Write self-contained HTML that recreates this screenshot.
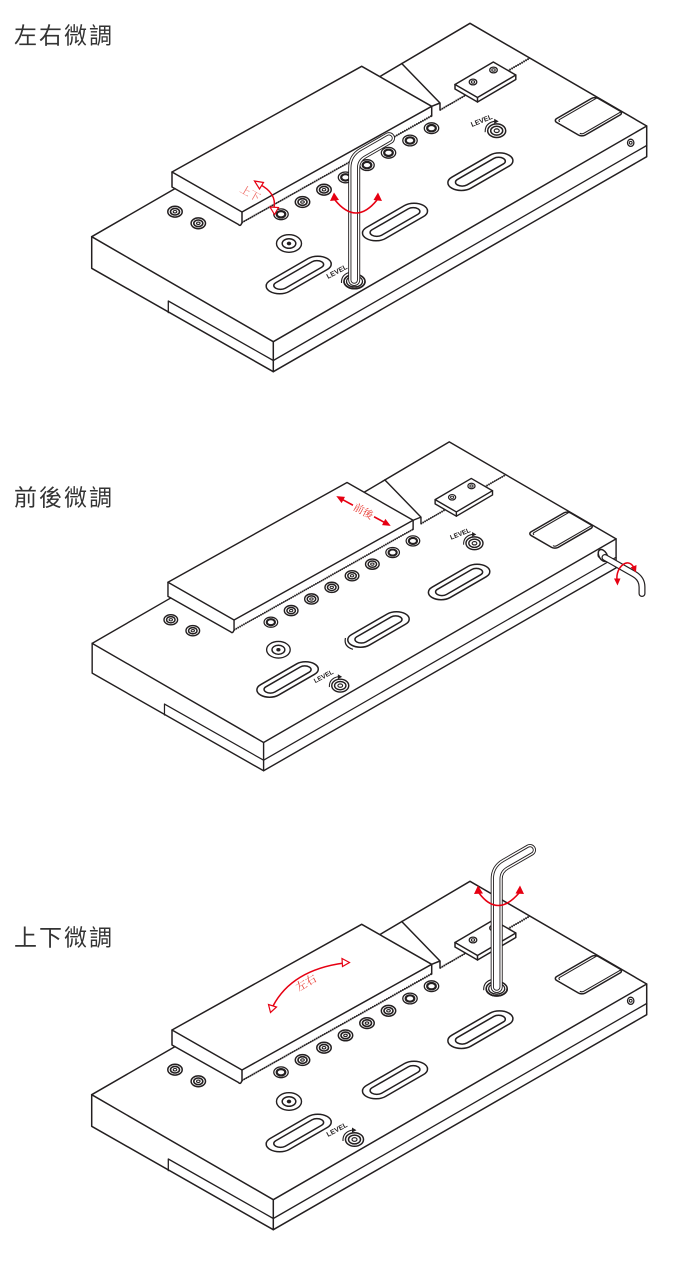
<!DOCTYPE html>
<html>
<head>
<meta charset="utf-8">
<style>
html,body{margin:0;padding:0;background:#fff;}
svg{display:block;}
.ttl{font-family:"Liberation Sans","Noto Sans CJK TC",sans-serif;font-size:23px;letter-spacing:2px;fill:#333;font-weight:400;}
.lv{font-family:"Liberation Sans",sans-serif;font-weight:bold;font-size:7px;fill:#231f20;}
.rt{font-family:"Liberation Serif","Noto Serif CJK SC","Noto Sans CJK TC",serif;fill:#e83a32;}
</style>
</head>
<body>
<svg width="700" height="1261" viewBox="0 0 700 1261" xmlns="http://www.w3.org/2000/svg">
<rect width="700" height="1261" fill="#fff"/>
<defs>
  <g id="sd" fill="none" stroke="#231f20">
    <ellipse rx="7.2" ry="5.4" fill="#fff" stroke-width="1.5"/>
    <ellipse rx="4.5" ry="3.3" stroke-width="1.6"/>
    <ellipse rx="1.8" ry="1.2" stroke-width="1.1"/>
  </g>
  <g id="so" fill="none" stroke="#231f20">
    <ellipse rx="7.2" ry="5.4" fill="#fff" stroke-width="1.3"/>
    <ellipse rx="4.3" ry="3.2" stroke-width="2.2"/>
  </g>
  <g id="ka" fill="none" stroke="#231f20">
    <path d="M-11.5,1.5 Q-12,-7.5 -2,-9.5" stroke-width="1.1"/>
    <path d="M-2.5,-12 L2,-9.3 L-2.5,-7 Z" fill="#231f20" stroke="none"/>
  </g>
  <g id="knob" fill="none" stroke="#231f20">
    <ellipse rx="9" ry="6.8" fill="#fff" stroke-width="1.5"/>
    <ellipse rx="6" ry="4.4" stroke-width="1.5"/>
    <ellipse rx="2.5" ry="1.8" stroke-width="1.2"/>
    <use href="#ka"/>
  </g>
  <g id="sock" fill="none" stroke="#231f20">
    <ellipse rx="10.5" ry="7.2" fill="#fff" stroke-width="1.6"/>
    <ellipse rx="8" ry="5.4" fill="#fff" stroke-width="1.2"/>
    <use href="#ka" x="-1.5"/>
  </g>

  <g id="base" fill="none" stroke="#231f20" stroke-width="1.5" stroke-linejoin="round" stroke-linecap="round">
    <!-- base plate -->
    <path d="M91.7,236.7 L273.3,341.7 L646.7,126 L470,23.3 L380,76.5"/>
    <path d="M91.7,236.7 L175,188.6"/>
    <path d="M91.7,236.7 V268.3 L273.3,371.7 L646.7,156.7 V126"/>
    <path d="M273.3,341.7 V371.7"/>
    <path d="M168.3,312.6 V301 L273.3,360.5 L646.7,145.5" stroke-width="1.3"/>
    <!-- top block -->
    <path fill="#fff" d="M172,172 L242,212 L431.7,106.3 L361.7,66.3 Z"/>
    <path d="M172,172 V187 L238.5,224.5 Q240.5,227 242,222.5 V212"/>
    <path d="M431.7,106.3 V116"/>
    <path d="M401.7,63.5 L440,103 V110 M431.7,106.3 L440,103"/>
    <!-- saw line -->
    <path d="M242,222.5 L431.7,115.8 M440,110 L530,58" stroke-width="0.9"/>
    <path d="M242,222.5 L431.7,115.8 M440,110 L530,58" stroke-width="2" stroke-dasharray="1 1.3" stroke-linecap="butt"/>
    <!-- clamp -->
    <path fill="#fff" d="M455,84.5 L493.3,62 L515.8,75 V79.5 L477.5,102 L455,89 Z"/>
    <path d="M455,84.5 L477.5,97.5 L515.8,75 M477.5,97.5 V102"/>
    <ellipse cx="473" cy="82" rx="3.8" ry="2.9" stroke-width="1.3"/>
    <ellipse cx="473" cy="82" rx="1.7" ry="1.2" stroke-width="1"/>
    <ellipse cx="493.5" cy="70" rx="3.8" ry="2.9" stroke-width="1.3"/>
    <ellipse cx="493.5" cy="70" rx="1.7" ry="1.2" stroke-width="1"/>
    <!-- pad -->
    <g transform="matrix(0.866,-0.5,0.866,0.5,553.3,120.5)">
      <rect width="48" height="33" rx="4" fill="#fff" vector-effect="non-scaling-stroke"/>
      <path d="M47,2.6 H5 Q3,2.6 2.6,4.5 M47,30.4 H5 Q3,30.4 2.6,28.5" vector-effect="non-scaling-stroke" stroke-width="1.1"/>
    </g>
    <!-- slots -->
    <g transform="matrix(0.866,-0.5,0.866,0.5,480.4,171.7)">
      <rect x="-33" y="-11" width="66" height="22" rx="11" vector-effect="non-scaling-stroke"/>
      <rect x="-26.5" y="-5.5" width="53" height="11" rx="5.5" vector-effect="non-scaling-stroke"/>
    </g>
    <g transform="matrix(0.866,-0.5,0.866,0.5,395,222)">
      <rect x="-33" y="-11" width="66" height="22" rx="11" vector-effect="non-scaling-stroke"/>
      <rect x="-26.5" y="-5.5" width="53" height="11" rx="5.5" vector-effect="non-scaling-stroke"/>
    </g>
    <g transform="matrix(0.866,-0.5,0.866,0.5,298.7,275)">
      <rect x="-33" y="-11" width="66" height="22" rx="11" vector-effect="non-scaling-stroke"/>
      <rect x="-26.5" y="-5.5" width="53" height="11" rx="5.5" vector-effect="non-scaling-stroke"/>
    </g>
    <!-- big screw -->
    <ellipse cx="289" cy="243.5" rx="12.5" ry="8.8" stroke-width="1.4"/>
    <ellipse cx="289" cy="243.5" rx="6.8" ry="4.8" stroke-width="1.5"/>
    <ellipse cx="289" cy="243.5" rx="1.5" ry="1.1" fill="#231f20"/>
    <!-- left screws -->
    <use href="#sd" x="175" y="211.7"/>
    <use href="#sd" x="198.3" y="223.3"/>
    <!-- side hole -->
    <ellipse cx="630.7" cy="142.8" rx="3.2" ry="3.6" stroke-width="1.3"/>
    <circle cx="630.7" cy="142.8" r="1.4" stroke-width="1"/>
  </g>
</defs>

<!-- Titles -->
<text class="ttl" x="14" y="43.5">左右微調</text>
<text class="ttl" x="14" y="505.5">前後微調</text>
<text class="ttl" x="14" y="945.5">上下微調</text>

<!-- ========== Drawing 1 ========== -->
<g>
  <use href="#base"/>
  <use href="#so" x="281" y="214.3"/>
  <use href="#sd" x="302.5" y="202"/>
  <use href="#sd" x="324" y="189.7"/>
  <use href="#so" x="345.5" y="177.4"/>
  <use href="#so" x="367" y="165.1"/>
  <use href="#so" x="388.5" y="152.8"/>
  <use href="#so" x="410" y="140.5"/>
  <use href="#so" x="431.5" y="128.2"/>
  <use href="#knob" x="496.7" y="130.7"/>
  <text class="lv" x="472" y="127" transform="rotate(-22 472 127)">LEVEL</text>
  <use href="#sock" x="354.5" y="281.5"/>
  <text class="lv" x="328" y="279" transform="rotate(-28 328 279)">LEVEL</text>

  <!-- 上下 arrow -->
  <path d="M259,184 Q277,193 274,208" stroke="#e60012" stroke-width="1.4" fill="none"/>
  <polygon points="254.5,181 263.5,182.5 259.5,189" fill="#fff" stroke="#e60012" stroke-width="1.2"/>
  <polygon points="274.5,214.5 270,207 278.5,207.5" fill="#fff" stroke="#e60012" stroke-width="1.2"/>
  <text class="rt" x="250" y="197" font-size="10.5" text-anchor="middle" opacity="0.8" transform="rotate(30 250 193.5)">上下</text>

  <!-- wrench -->
  <g fill="none" stroke-linecap="round" stroke-linejoin="round">
    <path d="M354.2,280 L354.2,168 Q354.2,158.2 362.9,153.2 L389,138.2" stroke="#231f20" stroke-width="12"/>
    <path d="M354.2,280 L354.2,168 Q354.2,158.2 362.9,153.2 L389,138.2" stroke="#fff" stroke-width="10.2"/>
    <path d="M354.2,280 L354.2,168 Q354.2,158.2 362.9,153.2 L389,138.2" stroke="#231f20" stroke-width="7.4"/>
    <path d="M354.2,280 L354.2,168 Q354.2,158.2 362.9,153.2 L389,138.2" stroke="#fff" stroke-width="5.6"/>
  </g>
  <path d="M344,281.5 A10.5,7.2 0 0,0 365,281.5" fill="none" stroke="#231f20" stroke-width="1.6"/>
  <path d="M346.5,281.5 A8,5.4 0 0,0 362.5,281.5" fill="none" stroke="#231f20" stroke-width="1.2"/>

  <!-- rotation arrow -->
  <path d="M335,200 Q356,226 377,200" fill="none" stroke="#e60012" stroke-width="1.6"/>
  <polygon points="334,192.5 330,201 339,200" fill="#e60012"/>
  <polygon points="378,192.5 373.5,200 382,201" fill="#e60012"/>
</g>

<!-- ========== Drawing 2 ========== -->
<g transform="translate(5.6,419.9) scale(0.944)">
  <use href="#base"/>
  <use href="#so" x="281" y="214.3"/>
  <use href="#sd" x="302.5" y="202"/>
  <use href="#sd" x="324" y="189.7"/>
  <use href="#sd" x="345.5" y="177.4"/>
  <use href="#sd" x="367" y="165.1"/>
  <use href="#sd" x="388.5" y="152.8"/>
  <use href="#so" x="410" y="140.5"/>
  <use href="#so" x="431.5" y="128.2"/>
  <use href="#knob" x="496.7" y="130.7"/>
  <text class="lv" x="472" y="127" transform="rotate(-22 472 127)">LEVEL</text>
  <use href="#knob" x="354.5" y="281.5"/>
  <text class="lv" x="328" y="279" transform="rotate(-28 328 279)">LEVEL</text>
  <path d="M360,231 Q358,240 368,243" fill="none" stroke="#231f20" stroke-width="1.3"/>
</g>
<!-- 前後 arrow -->
<g transform="translate(363.5,511) rotate(28.6)">
  <path d="M-26,0 H-12 M12,0 H26" stroke="#e60012" stroke-width="1.6" fill="none"/>
  <polygon points="-31,0 -23,-3.5 -23,3.5" fill="#e60012"/>
  <polygon points="31,0 23,-3.5 23,3.5" fill="#e60012"/>
  <text class="rt" x="0" y="3.8" font-size="10.5" text-anchor="middle">前後</text>
</g>
<!-- side wrench -->
<ellipse cx="603" cy="555.5" rx="4" ry="6.5" transform="rotate(-30 603 555.5)" fill="#fff" stroke="#231f20" stroke-width="1.5"/>
<g fill="none" stroke-linecap="round" stroke-linejoin="round">
  <path d="M605,557.5 L634,574 Q642,578.6 642,587 L642,593.5" stroke="#231f20" stroke-width="7"/>
  <path d="M605,557.5 L634,574 Q642,578.6 642,587 L642,593.5" stroke="#fff" stroke-width="4.6"/>
</g>
<path d="M617,580 C615.5,567 628,557 633.5,567" fill="none" stroke="#e60012" stroke-width="1.5"/>
<polygon points="617.5,585.5 614,578.5 620.5,578.5" fill="#e60012"/>
<polygon points="636,572.5 630.5,567.5 636.5,565" fill="#e60012"/>

<!-- ========== Drawing 3 ========== -->
<g transform="translate(0,858)">
  <use href="#base"/>
  <use href="#so" x="281" y="214.3"/>
  <use href="#sd" x="302.5" y="202"/>
  <use href="#sd" x="324" y="189.7"/>
  <use href="#sd" x="345.5" y="177.4"/>
  <use href="#sd" x="367" y="165.1"/>
  <use href="#sd" x="388.5" y="152.8"/>
  <use href="#so" x="410" y="140.5"/>
  <use href="#so" x="431.5" y="128.2"/>
  <use href="#knob" x="354.5" y="281.5"/>
  <text class="lv" x="328" y="279" transform="rotate(-28 328 279)">LEVEL</text>
  <use href="#sock" x="496.7" y="130.7"/>

  <!-- 左右 arrow -->
  <path d="M273,148 Q292,112 344,105" stroke="#e60012" stroke-width="1.5" fill="none"/>
  <polygon points="270.5,154.5 268.5,146.5 276.5,149" fill="#fff" stroke="#e60012" stroke-width="1.2"/>
  <polygon points="349.5,104.5 342,100.5 342.5,108.5" fill="#fff" stroke="#e60012" stroke-width="1.2"/>
  <text class="rt" x="306" y="128.5" font-size="11" text-anchor="middle" transform="rotate(-30 306 124.5)">左右</text>

  <!-- wrench -->
  <g fill="none" stroke-linecap="round" stroke-linejoin="round">
    <path d="M496.7,129 L496.7,21 Q496.7,11.2 505.4,6.2 L530,-8" stroke="#231f20" stroke-width="12"/>
    <path d="M496.7,129 L496.7,21 Q496.7,11.2 505.4,6.2 L530,-8" stroke="#fff" stroke-width="10.2"/>
    <path d="M496.7,129 L496.7,21 Q496.7,11.2 505.4,6.2 L530,-8" stroke="#231f20" stroke-width="7.4"/>
    <path d="M496.7,129 L496.7,21 Q496.7,11.2 505.4,6.2 L530,-8" stroke="#fff" stroke-width="5.6"/>
  </g>
  <path d="M486.2,130.7 A10.5,7.2 0 0,0 507.2,130.7" fill="none" stroke="#231f20" stroke-width="1.6"/>
  <path d="M488.7,130.7 A8,5.4 0 0,0 504.7,130.7" fill="none" stroke="#231f20" stroke-width="1.2"/>

  <!-- rotation arrow -->
  <path d="M479,35 Q497.5,60 519,35" fill="none" stroke="#e60012" stroke-width="1.6"/>
  <polygon points="478,27.5 474,36 483,35.5" fill="#e60012"/>
  <polygon points="520,27.5 515.5,35.5 524,36" fill="#e60012"/>
</g>
</svg>
</body>
</html>
